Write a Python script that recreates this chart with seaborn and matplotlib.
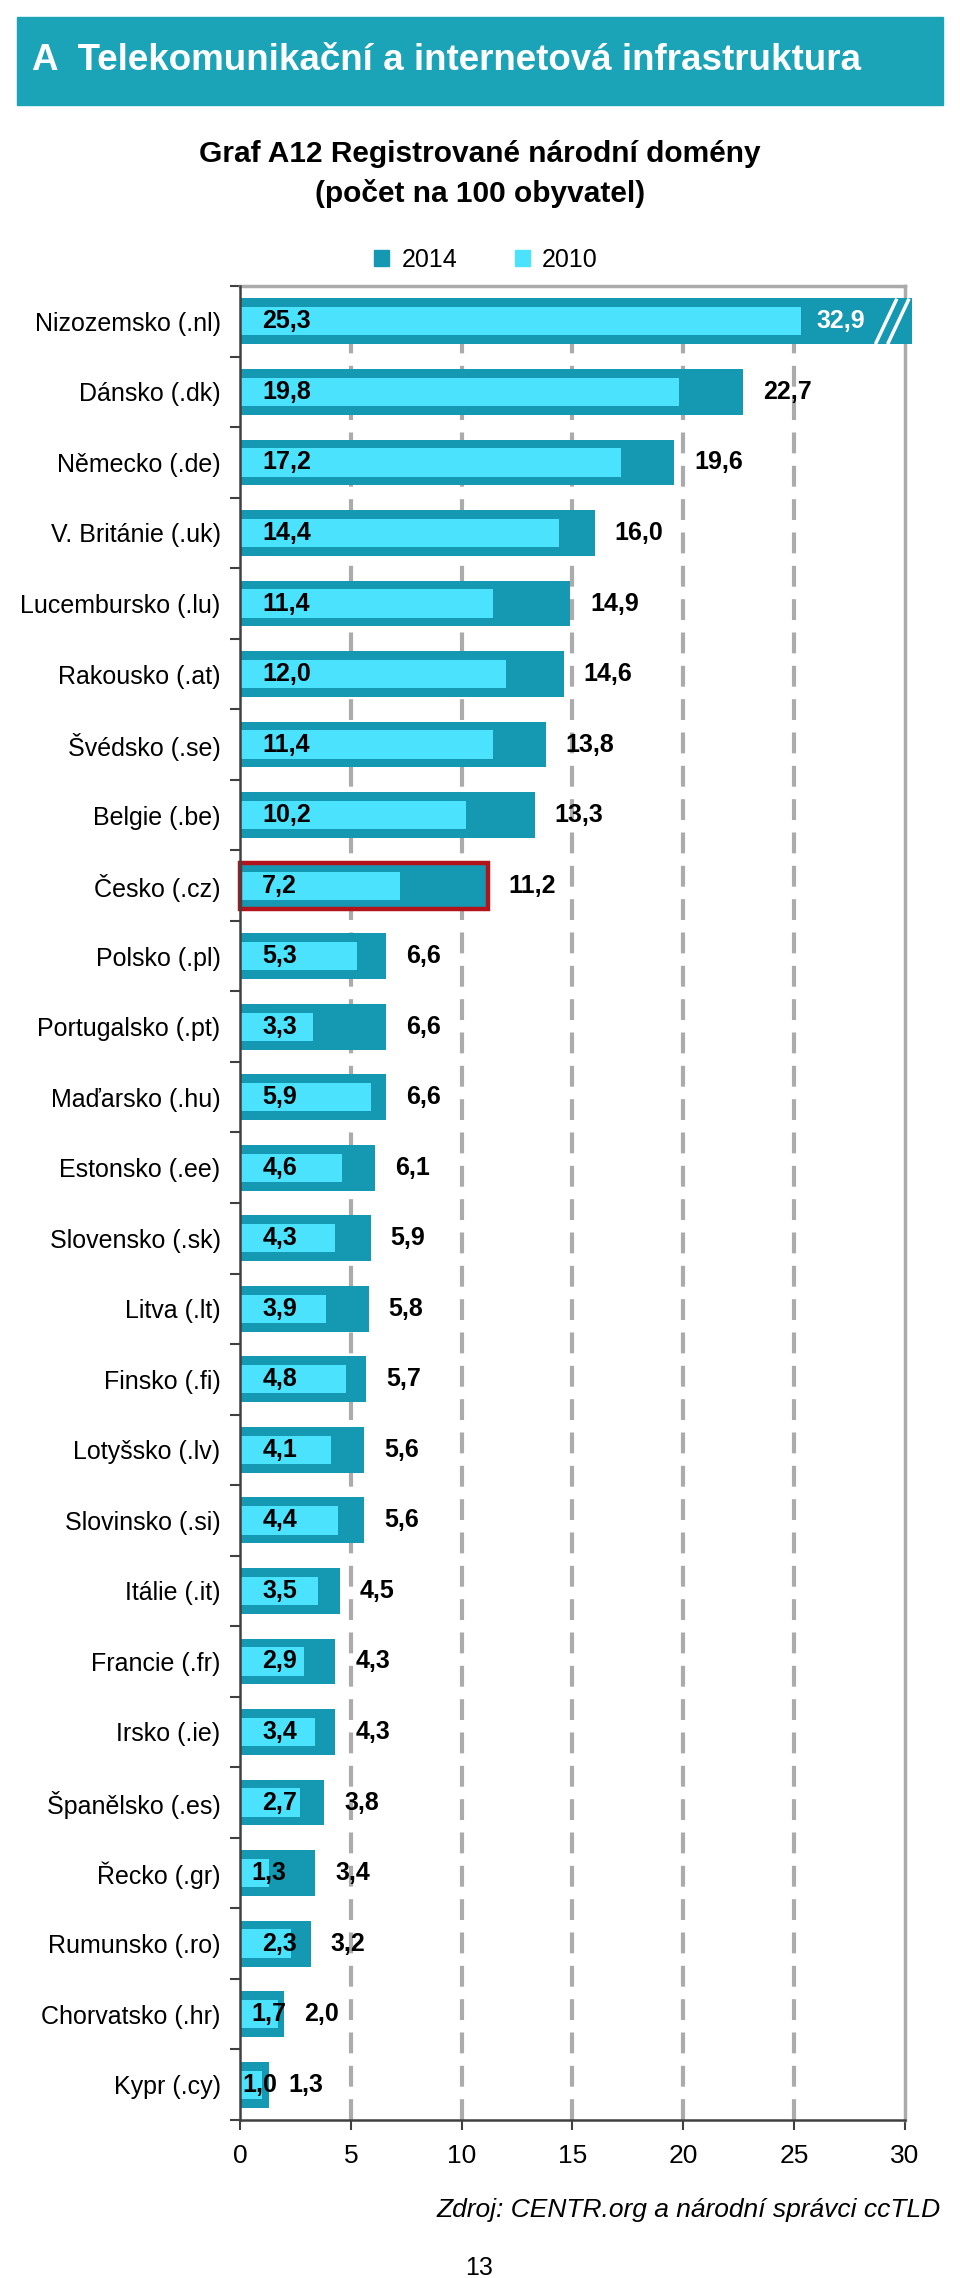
import numpy as np
import pandas as pd
import seaborn as sns
import matplotlib
matplotlib.use("Agg")
from matplotlib import pyplot as plt
from matplotlib.patches import Rectangle
from matplotlib.lines import Line2D

countries = ["Nizozemsko (.nl)", "Dánsko (.dk)", "Německo (.de)", "V. Británie (.uk)",
             "Lucembursko (.lu)", "Rakousko (.at)", "Švédsko (.se)", "Belgie (.be)",
             "Česko (.cz)", "Polsko (.pl)", "Portugalsko (.pt)", "Maďarsko (.hu)",
             "Estonsko (.ee)", "Slovensko (.sk)", "Litva (.lt)", "Finsko (.fi)",
             "Lotyšsko (.lv)", "Slovinsko (.si)", "Itálie (.it)", "Francie (.fr)",
             "Irsko (.ie)", "Španělsko (.es)", "Řecko (.gr)", "Rumunsko (.ro)",
             "Chorvatsko (.hr)", "Kypr (.cy)"]
v2014 = [32.9, 22.7, 19.6, 16.0, 14.9, 14.6, 13.8, 13.3, 11.2, 6.6, 6.6, 6.6, 6.1,
         5.9, 5.8, 5.7, 5.6, 5.6, 4.5, 4.3, 4.3, 3.8, 3.4, 3.2, 2.0, 1.3]
v2010 = [25.3, 19.8, 17.2, 14.4, 11.4, 12.0, 11.4, 10.2, 7.2, 5.3, 3.3, 5.9, 4.6,
         4.3, 3.9, 4.8, 4.1, 4.4, 3.5, 2.9, 3.4, 2.7, 1.3, 2.3, 1.7, 1.0]
x_ticks = [0, 5, 10, 15, 20, 25, 30]
highlight = "Česko (.cz)"

DARK = "#1598b2"
LIGHT = "#4ae2fc"
BAND = "#1ba4b8"
X_MAX = 30
X_CAP = 30.3  # the off-scale bar is cut just past the axis end

def fmt(v):
    return f"{v:.1f}".replace(".", ",")

df = pd.DataFrame({"country": countries, "v2014": v2014, "v2010": v2010})
df["shown2014"] = np.minimum(df["v2014"], X_CAP)

plt.rcParams["font.family"] = ["Liberation Sans", "DejaVu Sans"]

fig = plt.figure(figsize=(9.6, 22.78), dpi=100)
ax = fig.add_axes([0.25, 0.0694, 0.6927, 0.805])

sns.barplot(data=df, y="country", x="shown2014", color=DARK, width=0.65,
            orient="h", ax=ax, saturation=1, zorder=3)
n_dark = len(ax.patches)
sns.barplot(data=df, y="country", x="v2010", color=LIGHT, width=0.40,
            orient="h", ax=ax, saturation=1, zorder=4)

for i, p in enumerate(ax.patches):
    p.set_clip_on(False)
    p.set_linewidth(0)
    if i < n_dark and countries[i] == highlight:
        p.set_edgecolor("#b3141c")
        p.set_linewidth(3.2)
        p.set_zorder(5)
        p.set_facecolor("none")
        ax.add_patch(Rectangle(p.get_xy(), p.get_width(), p.get_height(),
                               facecolor=DARK, lw=0, zorder=3))

ax.set_xlim(0, X_MAX)
ax.set_ylim(len(countries) - 0.5, -0.5)
ax.set_xticks(x_ticks)
ax.set_xticklabels([str(t) for t in x_ticks], fontsize=19)
ax.set_xlabel("")
ax.set_ylabel("")
ax.tick_params(axis="y", which="major", length=0, pad=14, labelsize=18)
ax.set_yticks(np.arange(-0.5, len(countries), 1.0), minor=True)
ax.tick_params(axis="y", which="minor", length=7, width=1.5, color="#404040", direction="out")
ax.tick_params(axis="x", length=7, width=1.5, color="#404040", pad=10)

for t in x_ticks[1:-1]:
    ax.axvline(t, color="#ababab", lw=3, ls=(0, (5, 3)), zorder=1)

for side in ["top", "right"]:
    ax.spines[side].set_color("#ababab")
    ax.spines[side].set_linewidth(2.5)
for side in ["left", "bottom"]:
    ax.spines[side].set_color("#404040")
    ax.spines[side].set_linewidth(1.8)
    ax.spines[side].set_zorder(6)

for i, (a, b) in enumerate(zip(v2014, v2010)):
    lx = 1.0 if b >= 2.0 else (0.5 if b >= 1.2 else 0.1)
    ax.text(lx, i, fmt(b), ha="left", va="center", fontsize=18,
            fontweight="bold", color="black", zorder=7)
    if a > X_MAX:
        ax.text(26.0, i, fmt(a), ha="left", va="center", fontsize=18,
                fontweight="bold", color="white", zorder=7)
        for dx in (0, 0.55):
            ax.add_line(Line2D([28.7 + dx, 29.6 + dx], [i + 0.3, i - 0.3],
                               color="white", lw=2.5, zorder=8, clip_on=False))
    else:
        ax.text(a + 0.9, i, fmt(a), ha="left", va="center", fontsize=18,
                fontweight="bold", color="black", zorder=7)

# header band
fig.patches.append(Rectangle((17 / 960, 1 - 105 / 2278), 926 / 960, 88 / 2278,
                             transform=fig.transFigure, color=BAND, zorder=0))
fig.text(32 / 960, 1 - 61 / 2278, "A  Telekomunikační a internetová infrastruktura",
         color="white", fontsize=26.5, fontweight="bold", ha="left", va="center")

fig.text(0.5, 1 - 154 / 2278, "Graf A12 Registrované národní domény",
         fontsize=21.5, fontweight="bold", ha="center", va="center")
fig.text(0.5, 1 - 194 / 2278, "(počet na 100 obyvatel)",
         fontsize=21.5, fontweight="bold", ha="center", va="center")

handles = [Rectangle((0, 0), 1, 1, color=DARK), Rectangle((0, 0), 1, 1, color=LIGHT)]
fig.legend(handles, ["2014", "2010"], loc="center", bbox_to_anchor=(0.506, 1 - 260 / 2278),
           ncol=2, frameon=False, fontsize=18, handlelength=0.6, handleheight=0.6,
           columnspacing=2.3, handletextpad=0.5)

fig.text(941 / 960, 1 - 2210 / 2278, "Zdroj: CENTR.org a národní správci ccTLD",
         fontsize=19, style="italic", ha="right", va="center")
fig.text(479 / 960, 1 - 2268 / 2278, "13", fontsize=18, ha="center", va="center")

fig.savefig("out.png", dpi=100, facecolor="white")
